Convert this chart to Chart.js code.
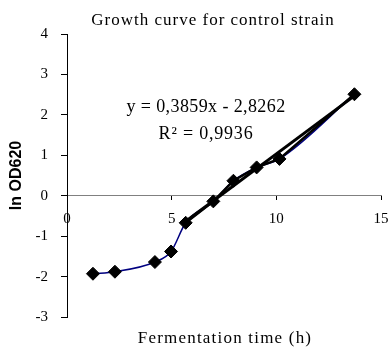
<!DOCTYPE html>
<html>
<head>
<meta charset="utf-8">
<script src="https://cdn.jsdelivr.net/npm/chart.js@4"></script>
<style>
html,body{margin:0;padding:0;background:#fff;}
#wrap{width:390px;height:349px;}
</style>
</head>
<body>
<div id="wrap"><canvas id="c" width="390" height="349"></canvas></div>
<script>
// Data
const timeH = [1.24, 2.29, 4.20, 4.97, 5.67, 6.99, 7.95, 9.06, 10.15, 13.73];
const lnOD = [-1.93, -1.88, -1.64, -1.38, -0.67, -0.14, 0.37, 0.70, 0.91, 2.51];
const expStart = 4; // index of first point in exponential phase
const trendX = [5.5, 13.73];
const trendY = [-0.70, 2.47];
const xTicks = [0, 5, 10, 15];
const yTicks = [-3, -2, -1, 0, 1, 2, 3, 4];
const titleText = "Growth curve for control strain";
const xTitle = "Fermentation time (h)";
const yTitle = "ln OD620";
const eqText = "y = 0,3859x - 2,8262";
const r2Text = "R\u00B2 = 0,9936";

const allPts = timeH.map((x, i) => ({x, y: lnOD[i]}));
const expPts = allPts.slice(expStart);
const trendPts = trendX.map((x, i) => ({x, y: trendY[i]}));

const serif = "'Liberation Serif','Times New Roman',serif";

const textPlugin = {
  id: 'texts',
  afterDraw(chart) {
    const ctx = chart.ctx;
    const a = chart.chartArea;
    ctx.save();
    ctx.fillStyle = '#000';
    ctx.textAlign = 'center';
    ctx.textBaseline = 'middle';
    ctx.font = "17px " + serif;
    try { ctx.letterSpacing = '1px'; } catch (e) {}
    ctx.fillText(titleText, 213, 21);
    ctx.font = "17px " + serif;
    try { ctx.letterSpacing = '1.2px'; } catch (e) {}
    ctx.fillText(xTitle, 225, 339);
    ctx.font = "18px " + serif;
    try { ctx.letterSpacing = '0.4px'; } catch (e) {}
    ctx.fillText(eqText, 206, 107);
    try { ctx.letterSpacing = '0.8px'; } catch (e) {}
    ctx.fillText(r2Text, 206, 134);
    try { ctx.letterSpacing = '0px'; } catch (e) {}
    // y axis title
    ctx.font = "bold 16px 'Liberation Sans', Arial, sans-serif";
    ctx.translate(17, (a.top + a.bottom) / 2);
    ctx.rotate(-Math.PI / 2);
    ctx.fillText(yTitle, 0, 0);
    ctx.restore();
  }
};

new Chart(document.getElementById('c'), {
  type: 'scatter',
  data: {
    datasets: [
      {
        label: 'markers',
        data: allPts,
        showLine: false,
        pointStyle: 'rectRot',
        pointRadius: 6.5,
        pointBackgroundColor: '#000',
        pointBorderColor: '#000',
        pointBorderWidth: 1,
        order: 0
      },
      {
        label: 'trend',
        data: trendPts,
        showLine: true,
        borderColor: '#000',
        borderWidth: 3,
        pointRadius: 0,
        order: 1
      },
      {
        label: 'exp',
        data: expPts,
        showLine: true,
        borderColor: '#000',
        borderWidth: 2.5,
        pointRadius: 0,
        order: 2
      },
      {
        label: 'curve',
        data: allPts,
        showLine: true,
        borderColor: '#000080',
        borderWidth: 1.5,
        cubicInterpolationMode: 'monotone',
        pointRadius: 0,
        order: 3
      }
    ]
  },
  options: {
    responsive: false,
    animation: false,
    devicePixelRatio: 1,
    layout: { padding: { top: 34, bottom: 32, right: 9, left: 0 } },
    plugins: {
      legend: { display: false },
      title: { display: false },
      tooltip: { enabled: false }
    },
    scales: {
      x: {
        type: 'linear',
        position: { y: 0 },
        min: 0, max: 15,
        afterBuildTicks(scale) { scale.ticks = xTicks.map(v => ({value: v})); },
        afterFit(scale) { scale.paddingRight = 0; scale.paddingLeft = 0; },
        ticks: {
          color: '#000',
          font: { family: serif, size: 15 },
          padding: 10,
          maxRotation: 0
        },
        grid: { drawOnChartArea: false, drawTicks: true, tickLength: 4, color: '#000' },
        border: { display: true, color: '#808080', width: 1 }
      },
      y: {
        type: 'linear',
        min: -3, max: 4,
        afterBuildTicks(scale) { scale.ticks = yTicks.map(v => ({value: v})); },
        afterFit(scale) { scale.width = 67; scale.paddingTop = 0; scale.paddingBottom = 0; },
        ticks: {
          color: '#000',
          font: { family: serif, size: 15 },
          padding: 13
        },
        grid: { drawOnChartArea: false, drawTicks: true, tickLength: 6, color: '#000' },
        border: { display: true, color: '#000', width: 1 }
      }
    }
  },
  plugins: [textPlugin]
});
</script>
</body>
</html>
